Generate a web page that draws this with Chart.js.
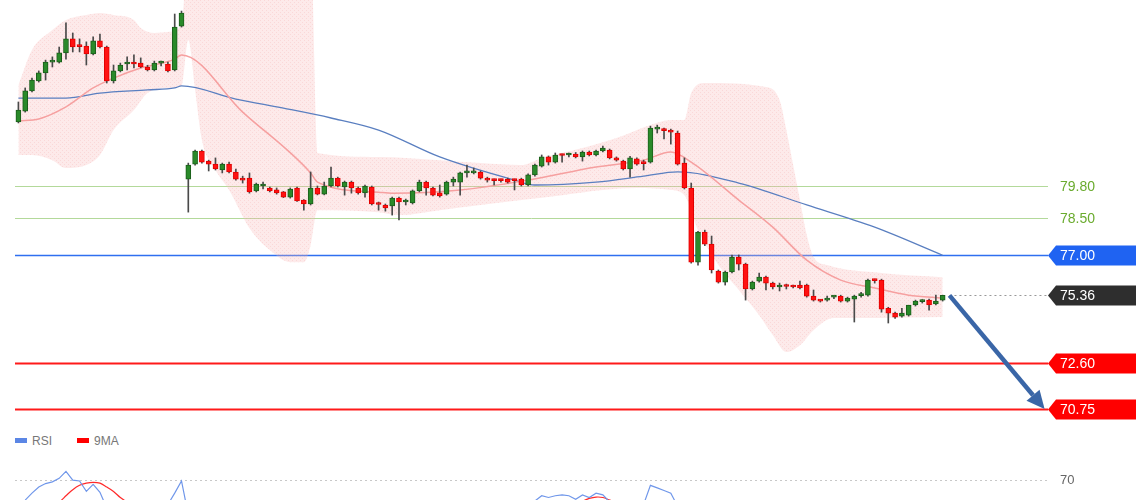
<!DOCTYPE html>
<html>
<head>
<meta charset="utf-8">
<script src="https://cdn.jsdelivr.net/npm/chart.js@4.4.1/dist/chart.umd.min.js"></script>
<style>
  html, body { margin: 0; padding: 0; background: #fff; overflow: hidden; }
  #wrap { position: relative; width: 1140px; height: 500px; overflow: hidden; }
  #main { position: absolute; left: 0; top: 0; }
  #rsi { position: absolute; left: 0; top: 454px; }
  .legend { position: absolute; left: 15px; top: 433px; font: 12px Arial, "Liberation Sans", sans-serif; color: #777; line-height: 16px; }
  .legend span.sw { display: inline-block; width: 12px; height: 5px; margin-right: 5px; vertical-align: middle; position: relative; top: -1px; }
  .legend span.item { margin-right: 25px; }
</style>
</head>
<body>
<div id="wrap">
  <canvas id="main" width="1140" height="430"></canvas>
  <div class="legend">
    <span class="item"><span class="sw" style="background:#5b86e5"></span>RSI</span><span class="item"><span class="sw" style="background:#ff0000"></span>9MA</span>
  </div>
  <canvas id="rsi" width="1140" height="87"></canvas>
</div>
<script>
// candles
const opens = [
  82.40, 82.84, 83.66, 84.06, 84.39, 84.83, 84.83, 85.20, 85.77, 85.50,
  85.48, 85.16, 85.69, 85.44, 84.06, 84.47, 84.75, 84.77, 84.79, 84.63,
  84.51, 84.79, 84.75, 84.51, 86.29, 80.08, 80.69, 81.22, 80.81, 80.69,
  80.45, 80.69, 80.37, 80.12, 80.12, 79.60, 79.80, 79.72, 79.64, 79.56,
  79.35, 79.72, 79.23, 79.07, 79.72, 79.47, 79.80, 80.12, 79.76, 79.96,
  79.72, 79.52, 79.76, 79.07, 79.03, 78.99, 79.31, 79.15, 79.11, 79.60,
  79.96, 79.72, 79.52, 79.47, 79.96, 79.96, 80.33, 80.33, 80.37, 80.12,
  80.04, 80.04, 80.08, 80.04, 80.08, 79.84, 80.25, 80.61, 80.98, 80.77,
  81.06, 81.06, 81.10, 80.98, 81.18, 81.06, 81.22, 81.26, 80.94, 80.81,
  80.49, 80.90, 80.73, 80.77, 82.11, 82.07, 82.07, 81.95, 80.73, 79.72,
  76.71, 77.93, 77.44, 76.35, 75.90, 76.31, 76.92, 76.63, 75.62, 75.94,
  76.10, 75.86, 75.70, 75.74, 75.74, 75.78, 75.78, 75.33, 75.15, 75.17,
  75.29, 75.33, 75.13, 75.21, 75.35, 75.37, 75.98, 75.98, 74.84, 74.64,
  74.52, 74.56, 74.97, 75.11, 75.17, 75.01, 75.17
];
const highs = [
  83.21, 83.78, 84.18, 84.47, 84.91, 85.04, 85.44, 86.42, 86.01, 85.77,
  85.65, 85.85, 85.97, 85.48, 84.71, 84.79, 85.04, 85.12, 85.00, 84.70,
  84.87, 84.87, 84.83, 86.78, 86.90, 80.73, 81.26, 81.26, 80.85, 80.94,
  80.73, 80.77, 80.49, 80.20, 80.33, 79.92, 79.96, 79.76, 79.72, 79.58,
  79.72, 79.76, 79.25, 80.37, 79.80, 79.96, 80.57, 80.16, 80.00, 80.00,
  79.76, 79.84, 79.80, 79.15, 79.07, 79.35, 79.35, 79.27, 79.64, 80.04,
  80.00, 79.76, 79.84, 80.00, 80.16, 80.37, 80.65, 80.53, 80.41, 80.16,
  80.08, 80.08, 80.12, 80.08, 80.12, 80.29, 80.69, 81.06, 81.02, 81.14,
  81.10, 81.14, 81.16, 81.22, 81.22, 81.26, 81.42, 81.30, 80.98, 80.85,
  81.00, 80.94, 80.85, 82.23, 82.27, 82.15, 82.11, 82.03, 80.94, 79.92,
  77.96, 78.01, 77.77, 76.39, 76.35, 77.00, 77.00, 76.67, 75.94, 76.27,
  76.14, 75.90, 75.86, 75.82, 75.78, 75.94, 75.82, 75.58, 75.19, 75.33,
  75.35, 75.37, 75.29, 75.37, 75.49, 76.02, 76.02, 76.02, 74.88, 74.68,
  74.84, 74.88, 75.17, 75.19, 75.21, 75.37, 75.37
];
const lows = [
  82.36, 82.80, 83.62, 84.02, 84.10, 84.63, 84.79, 84.95, 85.24, 85.24,
  84.71, 85.12, 85.40, 83.98, 83.98, 84.43, 84.51, 84.59, 84.60, 84.47,
  84.47, 84.67, 84.43, 84.47, 86.25, 78.74, 80.65, 80.73, 80.41, 80.45,
  80.33, 80.33, 80.04, 79.92, 79.51, 79.56, 79.68, 79.56, 79.47, 79.33,
  79.31, 79.17, 78.82, 79.03, 79.44, 79.44, 79.76, 79.76, 79.43, 79.51,
  79.47, 79.35, 79.03, 78.82, 78.78, 78.62, 78.42, 79.03, 79.07, 79.56,
  79.43, 79.40, 79.35, 79.43, 79.80, 79.43, 80.16, 80.29, 80.08, 79.96,
  79.84, 79.96, 79.92, 79.64, 79.80, 79.80, 80.20, 80.57, 80.65, 80.73,
  80.77, 80.98, 80.94, 80.81, 81.02, 81.02, 81.18, 80.90, 80.81, 80.45,
  80.16, 80.65, 80.45, 80.73, 81.95, 81.71, 81.50, 80.65, 79.68, 76.67,
  76.59, 77.38, 76.27, 75.86, 75.78, 76.27, 76.39, 75.17, 75.58, 75.90,
  75.58, 75.62, 75.54, 75.62, 75.66, 75.62, 75.29, 75.13, 75.09, 75.13,
  75.23, 75.09, 75.09, 74.28, 75.29, 75.33, 75.86, 74.68, 74.24, 74.43,
  74.48, 74.52, 74.93, 75.05, 74.76, 74.97, 75.13
];
const closes = [
  82.88, 83.66, 84.10, 84.39, 84.83, 84.85, 85.20, 85.77, 85.44, 85.46,
  85.16, 85.69, 85.44, 84.06, 84.47, 84.71, 84.77, 84.75, 84.63, 84.51,
  84.79, 84.81, 84.47, 86.25, 86.82, 80.65, 81.22, 80.77, 80.69, 80.49,
  80.69, 80.37, 80.08, 80.04, 79.56, 79.88, 79.82, 79.60, 79.52, 79.35,
  79.68, 79.19, 79.07, 79.72, 79.47, 79.80, 80.12, 79.80, 79.96, 79.72,
  79.52, 79.80, 79.07, 79.05, 78.91, 79.31, 79.15, 79.17, 79.60, 79.96,
  79.72, 79.43, 79.40, 79.96, 80.08, 80.33, 80.35, 80.41, 80.12, 80.04,
  80.02, 80.02, 79.96, 80.02, 79.84, 80.25, 80.65, 80.98, 80.77, 81.06,
  81.04, 81.08, 80.98, 81.18, 81.06, 81.22, 81.34, 80.94, 80.85, 80.49,
  80.94, 80.69, 80.71, 82.15, 82.13, 82.05, 81.99, 80.69, 79.72, 76.71,
  77.93, 77.44, 76.39, 75.90, 76.31, 76.92, 76.63, 75.62, 75.90, 76.10,
  75.86, 75.70, 75.72, 75.72, 75.70, 75.66, 75.33, 75.17, 75.13, 75.25,
  75.31, 75.13, 75.25, 75.33, 75.41, 75.98, 75.96, 74.80, 74.64, 74.48,
  74.64, 74.97, 75.13, 75.13, 74.97, 75.13, 75.36
];

// bollinger band and moving averages, [candle index, price]
const bandUpper = [
  [0, 83.90], [2, 85.32], [5, 86.13], [7, 86.54], [10, 86.74], [12, 86.82], [14, 86.74],
  [17, 86.54], [18, 86.21], [20, 86.01], [22, 86.05], [24, 86.34], [25, 89.5], [43, 89.5],
  [44, 81.14], [53, 80.98], [62, 80.85], [68, 80.73], [74, 80.65], [77, 80.94], [83, 81.34],
  [88, 81.75], [93, 82.28], [96, 82.48], [98, 82.48], [99, 83.57], [101, 83.98], [110, 83.82],
  [112, 83.29], [113, 82.07], [114, 80.65], [115, 79.23], [116, 77.81], [117, 76.92],
  [119, 76.59], [127, 76.27], [136, 76.10]
];
const bandLower = [
  [0, 81.06], [2, 81.06], [5, 80.85], [7, 80.53], [10, 80.65], [12, 81.06], [14, 82.07],
  [17, 82.88], [19, 83.57], [22, 83.78], [24, 83.86], [25, 85.73], [26, 83.70], [27, 81.67],
  [29, 80.45], [31, 79.64], [34, 78.09], [37, 77.20], [40, 76.71], [42, 76.71], [43, 77.40],
  [44, 78.82], [53, 78.74], [56, 78.62], [62, 78.82], [68, 79.03], [74, 79.23], [80, 79.43],
  [86, 79.64], [91, 79.72], [96, 79.64], [98, 79.43], [100, 78.01], [103, 76.59], [106, 75.58],
  [109, 74.56], [111, 73.75], [113, 73.06], [115, 73.34], [117, 73.95], [120, 74.44],
  [127, 74.44], [136, 74.48]
];
const bandMiddle = [
  [0, 82.44], [3, 82.52], [7, 83.01], [11, 83.78], [14, 84.18], [18, 84.59], [23, 84.95],
  [24, 85.12], [33, 82.80], [43, 80.33], [44, 79.96], [53, 79.55], [55, 79.51], [65, 79.64],
  [75, 80.04], [85, 80.57], [92, 80.85], [96, 81.18], [99, 80.77], [106, 79.23], [111, 78.13],
  [116, 76.79], [121, 75.98], [126, 75.66], [131, 75.37], [136, 75.25]
];
const slowMA = [
  [0, 83.37], [7, 83.37], [12, 83.57], [19, 83.70], [23, 83.78], [24, 83.86], [32, 83.33],
  [39, 82.96], [46, 82.56], [53, 82.07], [62, 80.98], [73, 80.04], [76, 79.84], [85, 79.96],
  [92, 80.20], [97, 80.37], [106, 79.92], [116, 79.03], [126, 78.13], [136, 76.99]
];

// RSI panel
const rsiValues = [
  40, 47, 55, 62, 66, 68, 72, 80, 70, 69, 57, 65, 56, 38, 44, 45, 44, 43, 42, 41,
  43, 43, 42, 55, 69, 30, 36, 33, 32, 31, 33, 31, 29, 29, 26, 30, 30, 29, 28, 27,
  31, 27, 26, 35, 33, 36, 40, 37, 38, 36, 34, 37, 32, 32, 31, 35, 34, 34, 38, 42,
  40, 37, 37, 42, 43, 45, 45, 45, 42, 41, 41, 41, 40, 40, 39, 42, 46, 52, 50, 52,
  53, 52, 48, 53, 50, 55, 53, 45, 43, 40, 44, 42, 42, 64, 61, 58, 55, 40, 33, 20,
  30, 27, 22, 20, 24, 30, 28, 22, 25, 27, 25, 24, 25, 25, 25, 24, 21, 20, 20, 22,
  23, 21, 23, 24, 25, 33, 33, 24, 22, 21, 23, 26, 29, 29, 27, 30, 33
];
const rsiMA9 = [
  38, 39, 40, 41, 42, 44, 45, 52, 59, 64, 66.5, 67.5, 66.5, 62, 57, 50, 45, 43, 42, 41,
  41, 41, 42, 44, 46, 43, 41, 39, 37, 35, 34, 33, 31, 31, 30, 30, 30, 29, 29, 29,
  29, 28, 28, 29, 30, 31, 32, 33, 34, 35, 35, 35, 35, 34, 34, 34, 34, 34, 35, 35,
  36, 36, 37, 38, 39, 40, 41, 42, 42, 42, 42, 42, 41, 41, 41, 41, 42, 43, 44, 45,
  46, 46, 45.5, 46, 49, 50.5, 50, 47, 44, 43, 42, 42, 42, 44, 45, 46, 46, 45, 43, 40,
  38, 36, 33, 30, 28, 27, 26, 25, 25, 25, 25, 25, 25, 25, 25, 24, 24, 23, 23, 23,
  22, 22, 22, 23, 23, 24, 25, 25, 25, 25, 25, 25, 25, 26, 26, 27, 27
];
const rsiLevel = 70;

// price levels on the right
const levelValues = [79.80, 78.50, 77.00, 75.36, 72.60, 70.75];
const levelText = ['79.80', '78.50', '77.00', '75.36', '72.60', '70.75'];
const levelStyles = [
  { line: '#b3d99a', width: 1, text: '#6aab2e' },
  { line: '#b3d99a', width: 1, text: '#6aab2e' },
  { line: '#2f6ff0', width: 1.5, box: '#1f63f2', text: '#fff' },
  { line: '#999', width: 1, dash: [2, 3], box: '#2e2e2e', text: '#fff' },
  { line: '#ff1a1a', width: 2, box: '#ff0000', text: '#fff' },
  { line: '#ff1a1a', width: 2, box: '#ff0000', text: '#fff' }
];

// projected move: from last close to target
const arrowFrom = [137, 75.36];
const arrowTo = [151, 70.75];

const slotCount = 152;
const labels = Array.from({ length: slotCount }, (_, i) => i);
const toPoints = pairs => pairs.map(([x, y]) => ({ x, y }));

const mainCanvas = document.getElementById('main');
const mainCtx = mainCanvas.getContext('2d');

function makeBandPattern(ctx) {
    const c = document.createElement('canvas');
    c.width = 4;
    c.height = 4;
    const g = c.getContext('2d');
    g.fillStyle = 'rgba(250, 185, 185, 0.3)';
    g.fillRect(0, 0, 4, 4);
    g.fillStyle = 'rgba(235, 120, 120, 0.16)';
    g.fillRect(0, 0, 1, 1);
    g.fillRect(2, 2, 1, 1);
    return ctx.createPattern(c, 'repeat');
}

const levelsPlugin = {
    id: 'levels',
    beforeDatasetsDraw(chart) {
        const { ctx, chartArea, scales: { x, y } } = chart;
        ctx.save();
        levelValues.forEach((v, i) => {
            const st = levelStyles[i];
            const py = Math.round(y.getPixelForValue(v)) + 0.5;
            const x0 = st.dash ? x.getPixelForValue(arrowFrom[0]) : chartArea.left;
            ctx.strokeStyle = st.line;
            ctx.lineWidth = st.width;
            ctx.setLineDash(st.dash || []);
            ctx.beginPath();
            ctx.moveTo(x0, py);
            ctx.lineTo(chartArea.right, py);
            ctx.stroke();
        });
        ctx.restore();
    },
    afterDatasetsDraw(chart) {
        const { ctx, scales: { x, y } } = chart;
        const x0 = x.getPixelForValue(arrowFrom[0]);
        const y0 = y.getPixelForValue(arrowFrom[1]);
        const x1 = x.getPixelForValue(arrowTo[0]);
        const y1 = y.getPixelForValue(arrowTo[1]);
        const ang = Math.atan2(y1 - y0, x1 - x0);
        const headLen = 18;
        const headHalf = 8.5;
        const bx = x1 - headLen * Math.cos(ang);
        const by = y1 - headLen * Math.sin(ang);
        ctx.save();
        ctx.strokeStyle = '#3a66a7';
        ctx.fillStyle = '#3a66a7';
        ctx.lineWidth = 4.5;
        ctx.beginPath();
        ctx.moveTo(x0, y0);
        ctx.lineTo(bx, by);
        ctx.stroke();
        ctx.beginPath();
        ctx.moveTo(x1, y1);
        ctx.lineTo(bx - headHalf * Math.sin(ang), by + headHalf * Math.cos(ang));
        ctx.lineTo(bx + headHalf * Math.sin(ang), by - headHalf * Math.cos(ang));
        ctx.closePath();
        ctx.fill();
        ctx.restore();
    },
    afterDraw(chart) {
        const { ctx, chartArea, scales: { y } } = chart;
        const bx = chartArea.right;
        ctx.save();
        ctx.font = '14px Arial, "Liberation Sans", sans-serif';
        ctx.textBaseline = 'middle';
        levelValues.forEach((v, i) => {
            const st = levelStyles[i];
            const py = Math.round(y.getPixelForValue(v)) + 0.5;
            if (st.box) {
                ctx.fillStyle = st.box;
                ctx.beginPath();
                ctx.moveTo(bx, py);
                ctx.lineTo(bx + 8, py - 10);
                ctx.lineTo(bx + 88, py - 10);
                ctx.lineTo(bx + 88, py + 10);
                ctx.lineTo(bx + 8, py + 10);
                ctx.closePath();
                ctx.fill();
            }
            ctx.fillStyle = st.text;
            ctx.fillText(levelText[i], bx + 12, py + 1);
        });
        ctx.restore();
    }
};

const isUp = i => closes[i] >= opens[i];

new Chart(mainCtx, {
    type: 'bar',
    data: {
        labels: labels,
        datasets: [
            {
                label: 'body',
                data: opens.map((o, i) => [o, closes[i]]),
                backgroundColor: c => isUp(c.dataIndex) ? '#2a8a2a' : '#ff1212',
                borderColor: c => isUp(c.dataIndex) ? '#1b5e1b' : '#e00000',
                borderWidth: 1,
                borderSkipped: false,
                barThickness: 5,
                minBarLength: 2,
                grouped: false,
                order: 0
            },
            {
                label: 'wick',
                data: lows.map((l, i) => [l, highs[i]]),
                backgroundColor: '#4a4a4a',
                barThickness: 1,
                grouped: false,
                order: 1
            },
            {
                type: 'line',
                label: 'mid',
                data: toPoints(bandMiddle),
                borderColor: '#f6a0a0',
                borderWidth: 1.5,
                pointRadius: 0,
                cubicInterpolationMode: 'monotone',
                order: 2
            },
            {
                type: 'line',
                label: 'slow',
                data: toPoints(slowMA),
                borderColor: '#5a7fc0',
                borderWidth: 1.3,
                pointRadius: 0,
                cubicInterpolationMode: 'monotone',
                order: 2
            },
            {
                type: 'line',
                label: 'upper',
                data: toPoints(bandUpper),
                borderWidth: 0,
                borderColor: 'rgba(0,0,0,0)',
                backgroundColor: makeBandPattern(mainCtx),
                pointRadius: 0,
                fill: '+1',
                cubicInterpolationMode: 'monotone',
                order: 3
            },
            {
                type: 'line',
                label: 'lower',
                data: toPoints(bandLower),
                borderWidth: 0,
                borderColor: 'rgba(0,0,0,0)',
                pointRadius: 0,
                fill: false,
                cubicInterpolationMode: 'monotone',
                order: 3
            }
        ]
    },
    options: {
        responsive: false,
        animation: false,
        events: [],
        layout: { padding: { left: 15, right: 92, top: 0, bottom: 0 } },
        scales: {
            x: { display: false, offset: true },
            y: { display: false, min: 69.898, max: 87.349 }
        },
        plugins: {
            legend: { display: false },
            tooltip: { enabled: false }
        }
    },
    plugins: [levelsPlugin]
});

const rsiLabelPlugin = {
    id: 'rsiLabel',
    afterDraw(chart) {
        const { ctx, chartArea, scales: { y } } = chart;
        ctx.save();
        ctx.font = '13px Arial, "Liberation Sans", sans-serif';
        ctx.fillStyle = '#666';
        ctx.textBaseline = 'middle';
        ctx.fillText(String(rsiLevel), chartArea.right + 12, y.getPixelForValue(rsiLevel));
        ctx.restore();
    }
};

new Chart(document.getElementById('rsi').getContext('2d'), {
    type: 'line',
    data: {
        labels: labels,
        datasets: [
            {
                label: 'RSI',
                data: rsiValues,
                borderColor: '#7097ea',
                borderWidth: 1.2,
                pointRadius: 0,
                tension: 0
            },
            {
                label: '9MA',
                data: rsiMA9,
                borderColor: '#ff2a2a',
                borderWidth: 1.2,
                pointRadius: 0,
                tension: 0.3
            }
        ]
    },
    options: {
        responsive: false,
        animation: false,
        events: [],
        layout: { padding: { left: 15, right: 92, top: 0, bottom: 0 } },
        scales: {
            x: { display: false, offset: true },
            y: {
                position: 'right',
                min: 0,
                max: 100,
                afterBuildTicks: scale => { scale.ticks = [{ value: rsiLevel }]; },
                ticks: { display: false },
                grid: { color: '#c8c8c8', drawTicks: false },
                border: { display: false, dash: [2, 3] }
            }
        },
        plugins: {
            legend: { display: false },
            tooltip: { enabled: false }
        }
    },
    plugins: [rsiLabelPlugin]
});
</script>
</body>
</html>
